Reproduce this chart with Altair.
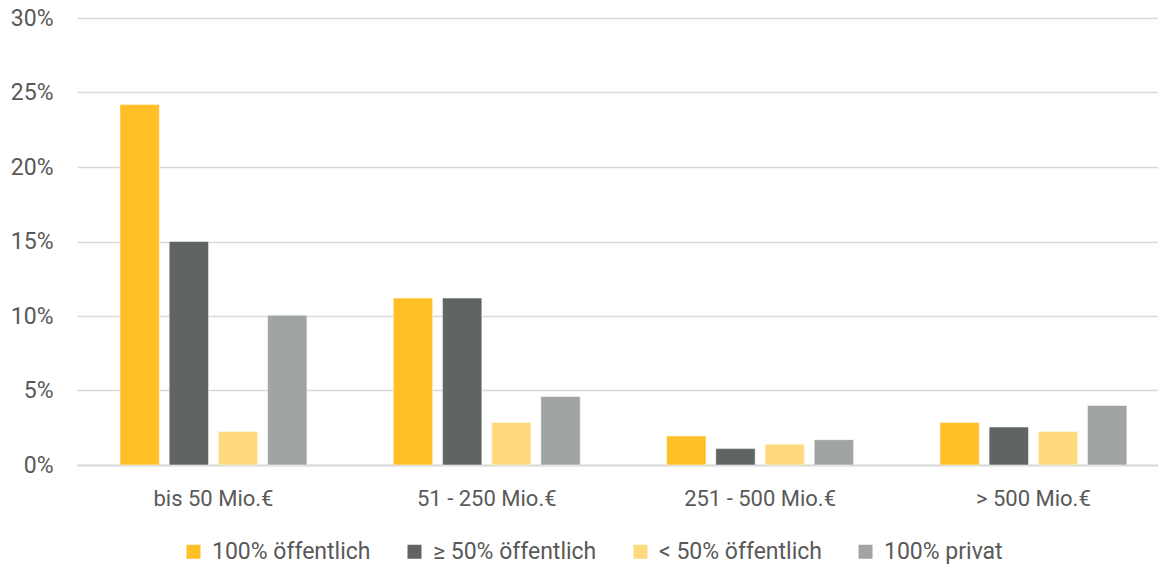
import altair as alt
import pandas as pd

categories = ["bis 50 Mio.€", "51 - 250 Mio.€", "251 - 500 Mio.€", "> 500 Mio.€"]
series = ["100% öffentlich", "≥ 50% öffentlich", "< 50% öffentlich", "100% privat"]
colors = ["#FFBF26", "#606563", "#FED97D", "#A1A4A4"]
values = {
    "100% öffentlich": [24.2, 11.2, 1.95, 2.85],
    "≥ 50% öffentlich": [15.0, 11.2, 1.1, 2.55],
    "< 50% öffentlich": [2.25, 2.85, 1.4, 2.25],
    "100% privat": [10.05, 4.6, 1.7, 4.0],
}

rows = []
for s in series:
    for c, v in zip(categories, values[s]):
        rows.append({"Größe": c, "Gruppe": s, "Wert": v / 100})
df = pd.DataFrame(rows)

FONT = "Roboto"
TXT = "#595959"

chart = (
    alt.Chart(df)
    .mark_bar(stroke="white", strokeWidth=0.5)
    .encode(
        x=alt.X(
            "Größe:N",
            sort=categories,
            title=None,
            scale=alt.Scale(paddingInner=0.316, paddingOuter=0.1356, align=0.58),
            axis=alt.Axis(
                labelAngle=0,
                labelFont=FONT,
                labelFontSize=22,
                labelColor=TXT,
                labelPadding=23,
                labelLimit=300,
                ticks=False,
                domainColor="#D9D9D9",
                domainWidth=2,
            ),
        ),
        xOffset=alt.XOffset("Gruppe:N", sort=series, scale=alt.Scale(paddingInner=0.2)),
        y=alt.Y(
            "Wert:Q",
            title=None,
            scale=alt.Scale(domain=[0, 0.30], nice=False),
            axis=alt.Axis(
                format=".0%",
                values=[0, 0.05, 0.10, 0.15, 0.20, 0.25, 0.30],
                labelFont=FONT,
                labelFontSize=23,
                labelColor=TXT,
                labelPadding=24,
                ticks=False,
                domain=False,
                gridColor="#D9D9D9",
                gridWidth=1.5,
            ),
        ),
        color=alt.Color(
            "Gruppe:N",
            sort=series,
            scale=alt.Scale(domain=series, range=colors),
            legend=alt.Legend(
                title=None,
                orient="none",
                direction="horizontal",
                legendX=105,
                legendY=522,
                padding=0,
                labelFont=FONT,
                labelFontSize=23,
                labelColor=TXT,
                labelLimit=300,
                symbolType="square",
                symbolSize=196,
                symbolStrokeWidth=0,
                labelOffset=7,
                columnPadding=32,
            ),
        ),
    )
    .properties(
        width=1081,
        height=447,
        padding={"left": 69, "top": 10, "right": 0, "bottom": 103},
        autosize=alt.AutoSizeParams(type="none"),
    )
    .configure_view(stroke=None)
)

chart.save("out.html", embed_options={"renderer": "svg", "actions": False})
